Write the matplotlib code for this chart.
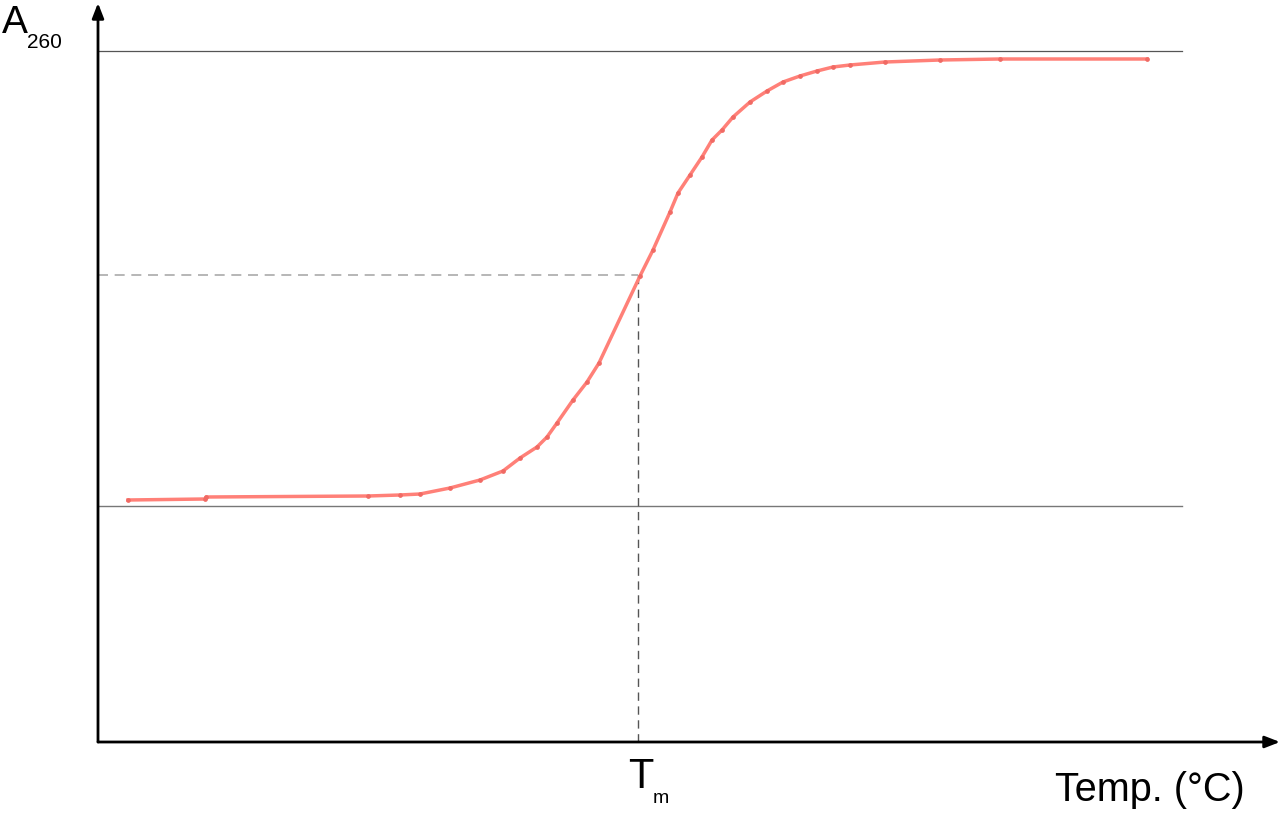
import matplotlib
matplotlib.use("Agg")
import matplotlib.pyplot as plt

plt.rcParams['font.family'] = ['Liberation Sans', 'DejaVu Sans']

# melting curve (arbitrary units)
temp = [30, 107, 108, 270, 302, 322, 352, 382, 405, 422, 439, 449, 459, 475,
        489, 501, 542, 555, 572, 580, 592, 604, 614, 624, 635, 652, 669, 685,
        702, 719, 735, 752, 787, 842, 902, 1049]
a260 = [242, 243, 245, 246, 247, 248, 254, 262, 271, 284, 295, 305, 319, 342,
        360, 379, 466, 492, 530, 549, 567, 585, 602, 612, 625, 640, 651, 660,
        666, 671, 675, 677, 680, 682, 683, 683]

base_low = 236
base_high = 691
tm = 540
a_half = 467
line_end = 1084

fig = plt.figure(figsize=(12.8, 8.22), dpi=100)
ax = fig.add_axes([98 / 1280, 80 / 822, 1182 / 1280, 742 / 822])
ax.set_xlim(0, 1182)
ax.set_ylim(0, 742)
ax.axis('off')

# baselines
ax.plot([0, line_end], [base_low, base_low], color='#777777', lw=1)
ax.plot([0, line_end], [base_high, base_high], color='#555555', lw=0.9)

# Tm guides
ax.plot([0, tm], [a_half, a_half], color='#aaaaaa', lw=1.2, ls=(0, (6, 4)))
ax.plot([tm, tm], [0, a_half], color='#555555', lw=1, ls=(0, (6, 4)))

# curve
ax.plot(temp, a260, color='#ff8078', lw=2.5, marker='o', ms=2.4,
        mec='#f06a64', mfc='#f06a64', solid_joinstyle='round')

# axes with arrows
arrow = dict(arrowstyle='-|>,head_length=0.9,head_width=0.35',
             color='black', lw=2, shrinkA=0, shrinkB=0)
ax.annotate('', xy=(1182, 0), xytext=(0, 0), arrowprops=arrow,
            annotation_clip=False)
ax.annotate('', xy=(0, 739), xytext=(0, 0), arrowprops=arrow,
            annotation_clip=False)

# labels
fig.text(2 / 1280, 1 - 33 / 822, 'A', fontsize=28, ha='left', va='baseline')
fig.text(27 / 1280, 1 - 48 / 822, '260', fontsize=15, ha='left', va='baseline')
fig.text(628 / 1280, 1 - 788 / 822, 'T', fontsize=30, ha='left', va='baseline')
fig.text(653 / 1280, 1 - 803 / 822, 'm', fontsize=14, ha='left', va='baseline')
fig.text(1245 / 1280, 1 - 801 / 822, 'Temp. (°C)', fontsize=28.5, ha='right',
         va='baseline')

fig.savefig('out.png', dpi=100)
